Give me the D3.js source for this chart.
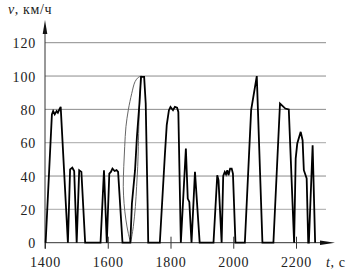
<!DOCTYPE html>
<html><head><meta charset="utf-8">
<script src="https://cdn.jsdelivr.net/npm/d3@7/dist/d3.min.js"></script>
<style>html,body{margin:0;padding:0;background:#fff;}svg{display:block;}
svg text{font-family:"Liberation Serif","Tinos","Times New Roman","Noto Serif","DejaVu Serif",serif;}</style>
</head><body>
<svg id="c" width="352" height="274"></svg>
<script>
// Driving cycle speed profile (black) — time, s
const cycleTime = [1402,1422,1426,1431,1437,1441,1447,1450,1473,1480,1487,1493,1501,1509,1516,1528,1577,1588,1597,1605,1610,1615,1622,1628,1633,1647,1672,1677,1687,1693,1701,1706,1716,1721,1727,1729,1766,1782,1788,1795,1800,1808,1814,1821,1825,1833,1849,1855,1860,1867,1878,1893,1937,1949,1953,1963,1968,1973,1977,1981,1985,1990,1995,1999,2007,2037,2057,2075,2093,2128,2149,2166,2177,2194,2199,2204,2215,2221,2225,2234,2239,2241,2253,2261];
// speed, km/h
const cycleSpeed = [0,77,79,77,79,78,80.5,81.5,0,44,45,43,0,43.5,42.5,0,0,43.5,0,41.5,42.5,44.5,43,43.5,42.5,0,0,23.5,43.5,63.5,83.5,99.5,99.5,83.5,23.5,0,0,52.5,70.5,79.5,81.5,79.5,81.5,81,78.5,0,56.5,26.5,24.5,0,42.5,0,0,40.5,37.5,0,40,42.5,41,43.5,40.5,44.5,44.5,41.5,0,0,79.5,100,0,0,83.5,80.5,80,0,50.5,59.5,66.5,61.5,43.5,38.5,0,0,58.5,0];
// thin reference curve
const refTime = [1673,1681.5,1688,1692,1695.5,1697.5,1699.5,1703,1707,1708,1697.5,1687,1676.5,1665.5,1658,1654,1651,1649.5,1652,1658,1665.5,1673];
const refSpeed = [0,9.6,21.6,33.6,45.6,57.6,73.6,89.6,99.6,100,99.2,96.6,89.6,79.6,69.6,57.6,45.6,33.6,23.6,13.6,5.6,0];
const xTicks = [1400,1600,1800,2000,2200];
const yTicks = [0,20,40,60,80,100,120];

const svg = d3.select("#c");
const font = "Liberation Serif";
const x = d3.scaleLinear().domain([1400,2200]).range([45,296]);
const y = d3.scaleLinear().domain([0,120]).range([242.7,42.7]);
const x0 = x(1400), y0 = y(0), gridEnd = 326;

// gridlines
svg.append("g").selectAll("line").data(yTicks.filter(d=>d>0)).join("line")
  .attr("x1",x0).attr("x2",gridEnd)
  .attr("y1",d=>y(d)).attr("y2",d=>y(d))
  .attr("stroke",d=>(d===20||d===60)?"#b8b8b8":"#8c8c8c")
  .attr("stroke-width",d=>(d===20||d===60)?1.3:1);

// y axis labels
const ya = svg.append("g").attr("transform",`translate(${x0},0)`)
  .call(d3.axisLeft(y).tickValues(yTicks).tickSize(0).tickPadding(9).tickFormat(d3.format("d")));
ya.select(".domain").remove();
ya.attr("font-family",font);
ya.selectAll("text").attr("font-size",14).attr("fill","#222")
  .attr("dy","0.36em").attr("letter-spacing",0.8);

// x axis ticks & labels
const xa = svg.append("g").attr("transform",`translate(0,${y0})`)
  .call(d3.axisBottom(x).tickValues(xTicks).tickSizeInner(6).tickSizeOuter(0).tickPadding(14).tickFormat(d3.format("d")));
xa.select(".domain").remove();
xa.attr("font-family",font);
xa.selectAll(".tick line").attr("y1",-6).attr("stroke","#333");
xa.selectAll("text").attr("font-size",14).attr("fill","#222")
  .attr("dy","0.71em").attr("y",14.5).attr("letter-spacing",0.8);

// axes lines with arrows
svg.append("line").attr("x1",x0).attr("x2",322).attr("y1",y0).attr("y2",y0).attr("stroke","#333").attr("stroke-width",1);
svg.append("path").attr("d",`M335,${y0} L320,${y0-2.3} L320,${y0+2.3} Z`).attr("fill","#111");
svg.append("line").attr("x1",x0).attr("x2",x0).attr("y1",y0+6).attr("y2",32).attr("stroke","#333").attr("stroke-width",1);
svg.append("path").attr("d",`M${x0},20 L${x0-2.3},34 L${x0+2.3},34 Z`).attr("fill","#111");

// reference thin curve
const refPts = refTime.map((t,i)=>[t,refSpeed[i]]);
svg.append("path").datum(refPts)
  .attr("d",d3.line().x(d=>x(d[0])).y(d=>y(d[1])).curve(d3.curveCatmullRom.alpha(0.5)))
  .attr("fill","none").attr("stroke","#666").attr("stroke-width",1);

// main cycle
const pts = cycleTime.map((t,i)=>[t,cycleSpeed[i]]);
svg.append("path").datum(pts)
  .attr("d",d3.line().x(d=>x(d[0])).y(d=>y(d[1])))
  .attr("fill","none").attr("stroke","#000").attr("stroke-width",1.8).attr("stroke-linejoin","miter").attr("stroke-miterlimit",3);

// axis titles
const vt = svg.append("text").attr("x",8).attr("y",14).attr("font-size",14).attr("fill","#222").attr("letter-spacing",0.6);
vt.append("tspan").attr("font-style","italic").text("v");
vt.append("tspan").text(", км/ч");
const tt = svg.append("text").attr("x",326).attr("y",267).attr("font-size",14).attr("fill","#222").attr("letter-spacing",0.6);
tt.append("tspan").attr("font-style","italic").text("t");
tt.append("tspan").text(", с");
</script>
</body></html>
